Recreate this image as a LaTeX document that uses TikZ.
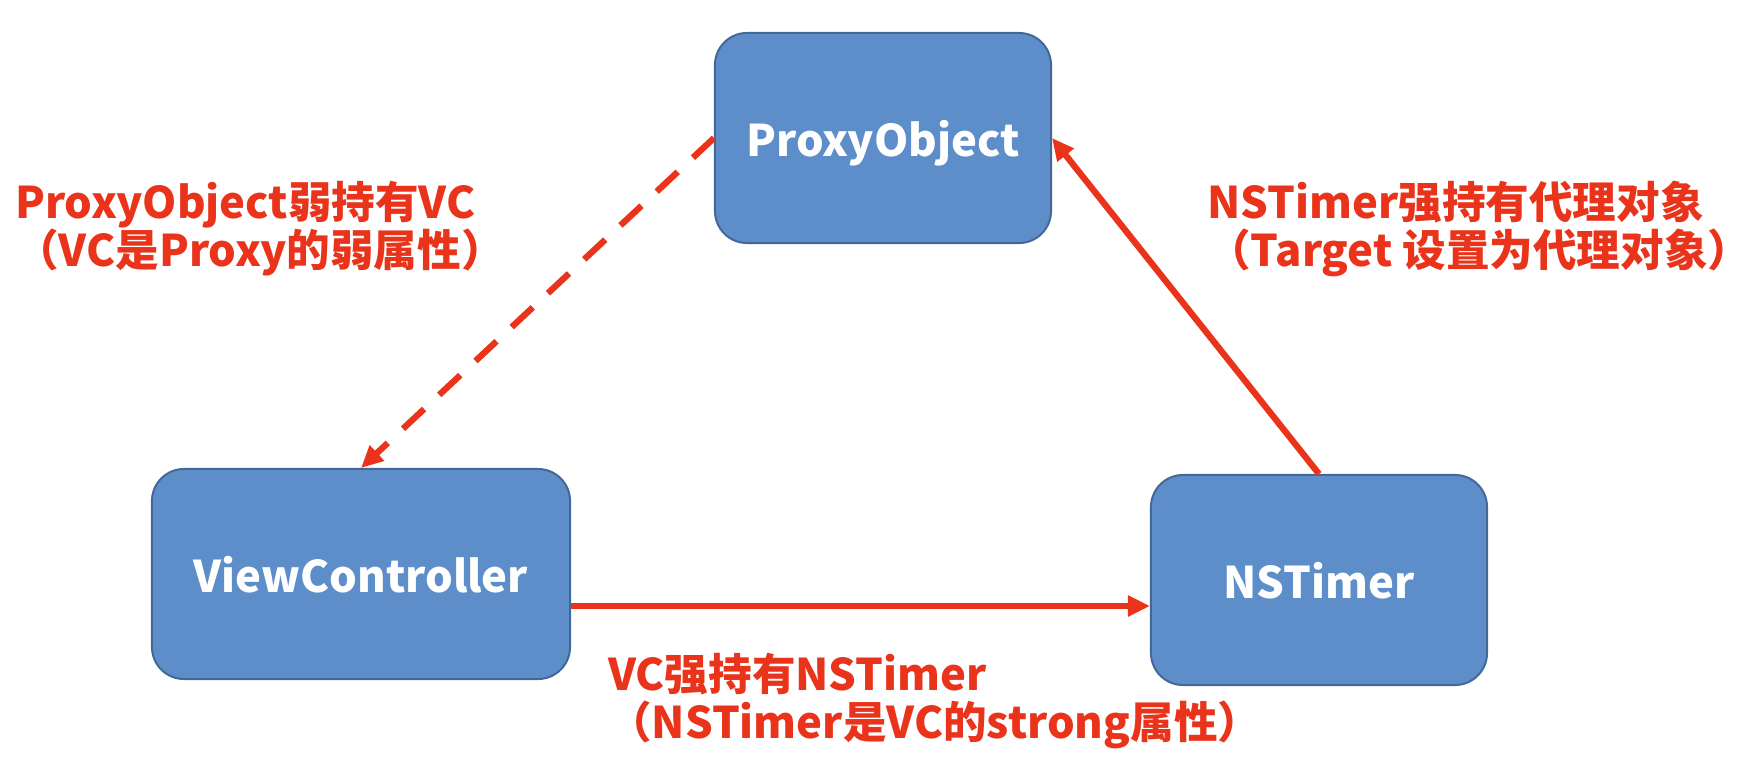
\documentclass[tikz,border=0pt]{standalone}
\usepackage{fontspec}
\usetikzlibrary{arrows.meta,positioning,calc}
\newfontfamily\cjk{Noto Sans CJK SC}
\definecolor{BoxBlue}{RGB}{93,142,201}
\definecolor{BoxEdge}{RGB}{65,104,150}
\definecolor{LinkRed}{RGB}{233,52,27}
\tikzset{
  objbox/.style={draw=BoxEdge,fill=BoxBlue,line width=1.4pt,rounded corners=0.8cm,
    minimum width=8.4cm,minimum height=5.25cm,inner sep=0pt,text depth=0pt,
    text=white,font=\cjk\bfseries\fontsize{31}{34}\selectfont},
  note/.style={text=LinkRed,align=left,inner sep=0pt,anchor=north west,
    font=\cjk\bfseries\fontsize{31}{34}\selectfont},
  holdstrong/.style={-{Triangle[length=0.55cm,width=0.5cm]},line width=4.5pt,LinkRed},
  holdweak/.style={holdstrong,dash pattern=on 0.72cm off 0.52cm}
}

\begin{document}
\begin{tikzpicture}[x=0.025cm,y=-0.025cm]
\useasboundingbox (0,0) rectangle (1756,774);

% Objects
\node[objbox] (proxy) at (883,138) {ProxyObject};
\node[objbox,minimum width=10.45cm] (vc) at (361,574) {ViewController};
\node[objbox] (timer) at (1319,580) {NSTimer};

% Notes
\node[note] (weaknote) at (15,181) {ProxyObject弱持有VC\\（VC是Proxy的弱属性）};
\node[note] (targetnote) at (1207,181) {NSTimer强持有代理对象\\（Target 设置为代理对象）};
\node[note] (timernote) at (608,653) {VC强持有NSTimer\\（NSTimer是VC的strong属性）};

% Links
\draw[holdweak] (proxy.west) -- (vc.north);
\draw[holdstrong] (timer.north) -- (proxy.east);
\draw[holdstrong] ([yshift=-0.8cm]vc.east) -- ([yshift=-0.8cm]vc.east -| timer.west);

\end{tikzpicture}
\end{document}
